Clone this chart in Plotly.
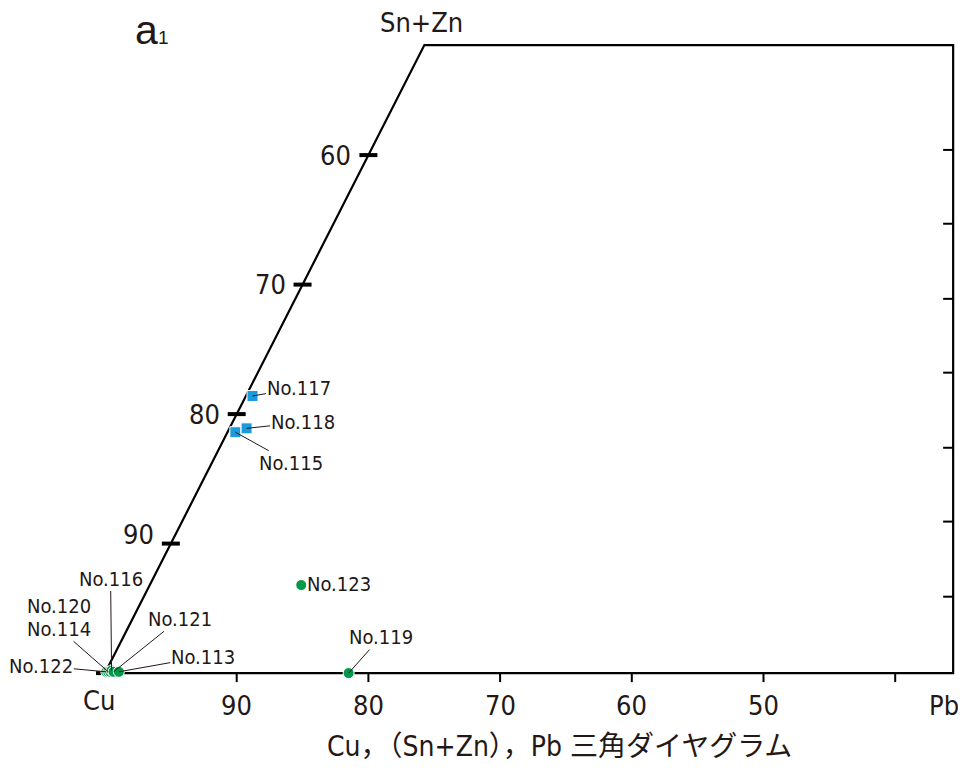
import plotly.graph_objects as go

# ---------------- data (ternary percentages) ----------------
sq_names = ["No.115", "No.117", "No.118"]
sq_snzn = [18.6, 21.4, 18.9]
sq_pb = [0.6, 0.5, 1.3]
sq_cu = [round(100 - s - p, 2) for s, p in zip(sq_snzn, sq_pb)]

ci_names = ["No.122", "No.114", "No.120", "No.116", "No.121", "No.113", "No.119", "No.123"]
ci_snzn = [0.1, 0.1, 0.1, 0.2, 0.1, 0.1, 0.0, 6.8]
ci_pb = [0.05, 0.2, 0.35, 0.4, 0.6, 1.0, 18.5, 11.5]
ci_cu = [round(100 - s - p, 2) for s, p in zip(ci_snzn, ci_pb)]

# axis ticks (Cu %)
bottom_tick_cu = [90, 80, 70, 60, 50, 40]
bottom_tick_text = ["90", "80", "70", "60", "50", ""]
slant_tick_cu = [100, 90, 80, 70, 60]
slant_tick_text = ["", "90", "80", "70", "60"]
right_tick_snzn = [5.9, 11.7, 17.4, 23.2, 28.9, 34.7, 40.4]

# visible window of the diagram
top_snzn = 48.5
right_pb = 64.4

title_text = "Cu，（Sn+Zn），Pb 三角ダイヤグラム"

# ---------------- styles ----------------
LAT = "DejaVu Sans Condensed, Liberation Sans Narrow, Noto Sans CJK JP, sans-serif"
TXT = "#231815"
BLUE = "#1A9BDB"
GREEN = "#00984A"


def to_xy(snzn, pb):
    """ternary -> cartesian (x = Pb + (Sn+Zn)/2, y = Sn+Zn)"""
    return [p + s / 2 for s, p in zip(snzn, pb)], list(snzn)


fig = go.Figure()

# frame of the (cropped) triangle
fx, fy = to_xy([0, top_snzn, top_snzn, 0, 0], [0, 0, right_pb - top_snzn / 2, right_pb, 0])
fig.add_trace(go.Scatter(x=fx, y=fy, mode="lines", line=dict(color="black", width=2.2),
                         hoverinfo="skip", showlegend=False))

sx, sy = to_xy(sq_snzn, sq_pb)
cx, cy = to_xy(ci_snzn, ci_pb)

fig.add_trace(go.Scatter(x=cx, y=cy, mode="markers", cliponaxis=False, showlegend=False,
                         text=ci_names,
                         marker=dict(symbol="circle", size=11, color=GREEN,
                                     line=dict(color="white", width=1))))
fig.add_trace(go.Scatter(x=sx, y=sy, mode="markers", cliponaxis=False, showlegend=False,
                         text=sq_names,
                         marker=dict(symbol="square", size=11, color=BLUE,
                                     line=dict(color="white", width=1))))

shapes = []
annotations = []
TICK_FONT = dict(family=LAT, size=27, color=TXT)

# bottom ticks
for cu, t in zip(bottom_tick_cu, bottom_tick_text):
    x = 100 - cu
    shapes.append(dict(type="line", xref="x", yref="y", ysizemode="pixel", yanchor=0,
                       x0=x, x1=x, y0=0, y1=-9, line=dict(color="black", width=2)))
    if t:
        annotations.append(dict(x=x, y=0, xref="x", yref="y", text=t, showarrow=False,
                                yshift=-32, xanchor="center", yanchor="middle",
                                font=TICK_FONT))

# slant ticks (Cu–(Sn+Zn) edge)
for cu, t in zip(slant_tick_cu, slant_tick_text):
    s = 100 - cu
    x, y = s / 2, s
    shapes.append(dict(type="line", xref="x", yref="y", xsizemode="pixel", xanchor=x,
                       x0=-9, x1=9, y0=y, y1=y, layer="below",
                       line=dict(color="black", width=4)))
    if t:
        annotations.append(dict(x=x, y=y, xref="x", yref="y", text=t, showarrow=False,
                                xshift=-15, yshift=(9 if cu == 90 else 0),
                                xanchor="right", yanchor="middle", font=TICK_FONT))

# right side ticks (inward)
for y in right_tick_snzn:
    shapes.append(dict(type="line", xref="x", yref="y", xsizemode="pixel", xanchor=right_pb,
                       x0=-10, x1=0, y0=y, y1=y, line=dict(color="black", width=2)))

# corner labels
annotations.append(dict(x=0, y=0, xref="x", yref="y", text="Cu", showarrow=False,
                        xshift=-6, yshift=-27, font=TICK_FONT))
annotations.append(dict(x=right_pb, y=0, xref="x", yref="y", text="Pb", showarrow=False,
                        xshift=-9, yshift=-32, borderpad=0, font=TICK_FONT))
annotations.append(dict(x=top_snzn / 2, y=top_snzn, xref="x", yref="y", text="Sn+Zn",
                        showarrow=False, xshift=-3, yshift=23, font=TICK_FONT))

# sample labels with leader lines (offsets in pixels)
label_offsets = {
    "No.122": (-65, -6, True),
    "No.114": (-49, -43, True),
    "No.120": (-51, -66, False),
    "No.116": (-1, -92, True),
    "No.121": (66, -53, True),
    "No.113": (84, -15, True),
    "No.119": (32, -36, True),
    "No.123": (38, -1, False),
    "No.115": (56, 31, True),
    "No.117": (46, -8, True),
    "No.118": (56, -6, True),
}
for names, xs, ys in ((ci_names, cx, cy), (sq_names, sx, sy)):
    for n, x, y in zip(names, xs, ys):
        ax, ay, line = label_offsets[n]
        annotations.append(dict(x=x, y=y, xref="x", yref="y", text=n, showarrow=True,
                                ax=ax, ay=ay, arrowhead=0, arrowwidth=1, standoff=0,
                                borderpad=0,
                                arrowcolor=("#231815" if line else "rgba(0,0,0,0)"),
                                font=dict(family=LAT, size=20, color=TXT)))

# ---------------- page geometry ----------------
# the page body has an 8 px margin, so the figure is placed 8 px in from the window corner
OFF = 8
W, H = 958, 754
# plot area in window pixels: x 62..956, y 20..700
ML, MR, MT, MB = 62 - OFF, W - (956 - OFF), 20 - OFF, H - (700 - OFF)
PW, PH = W - ML - MR, H - MT - MB


def px(x):
    return (x - OFF - ML) / PW


def py(y):
    return (H - MB - (y - OFF)) / PH


annotations.append(dict(x=px(146), y=py(30), xref="paper", yref="paper", text="a",
                        showarrow=False, xanchor="center", yanchor="middle", borderpad=0,
                        font=dict(family="Liberation Sans, Arial, sans-serif", size=41, color=TXT)))
annotations.append(dict(x=px(163), y=py(37), xref="paper", yref="paper", text="1",
                        showarrow=False, xanchor="center", yanchor="middle",
                        font=dict(family="Liberation Sans, Arial, sans-serif", size=19, color=TXT)))
annotations.append(dict(x=px(559), y=py(746), xref="paper", yref="paper", text=title_text,
                        showarrow=False, xanchor="center", yanchor="middle", borderpad=0,
                        font=dict(family=LAT, size=28, color=TXT)))

fig.update_layout(
    width=W, height=H,
    margin=dict(l=ML, r=MR, t=MT, b=MB),
    paper_bgcolor="white", plot_bgcolor="white",
    xaxis=dict(range=[(62 - 105) / 13.17, (956 - 105) / 13.17], visible=False),
    yaxis=dict(range=[(673.1 - 700) / 12.95, (673.1 - 20) / 12.95], visible=False),
    shapes=shapes, annotations=annotations, showlegend=False,
)

fig.write_html("out.html")
